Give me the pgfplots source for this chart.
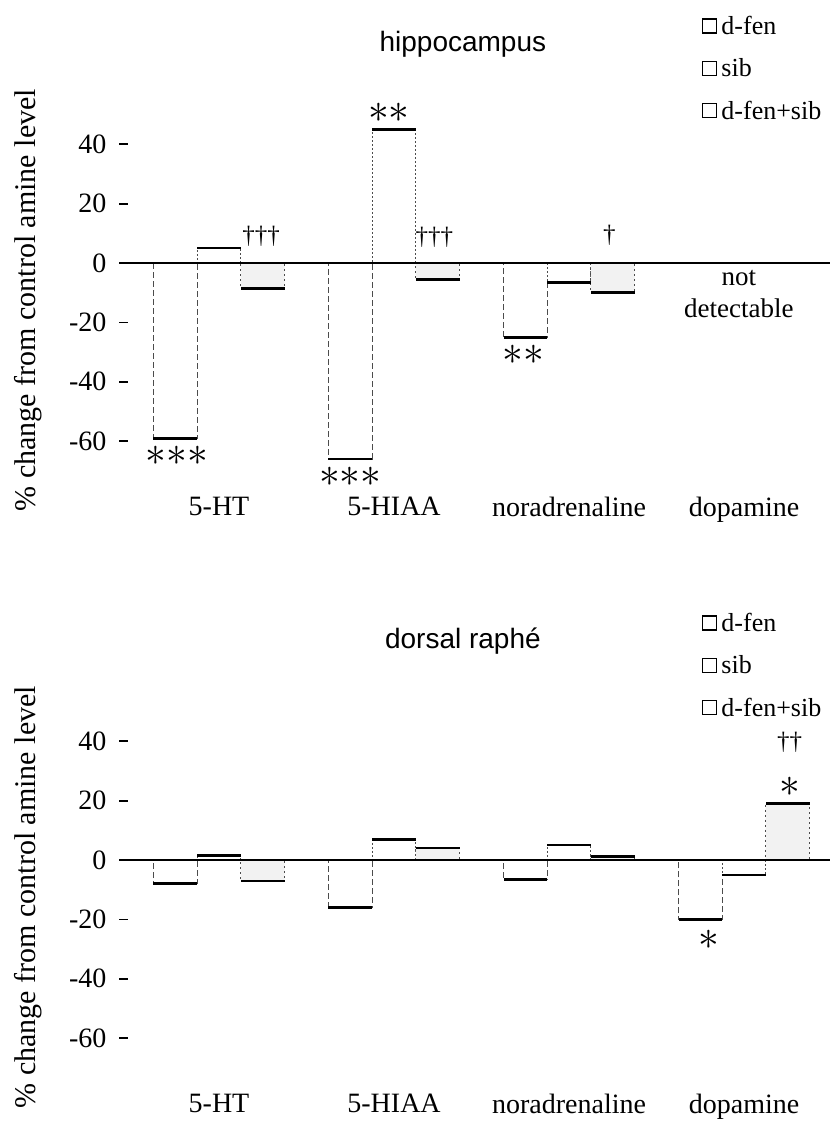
\documentclass[border=0pt]{standalone}
\usepackage{fontspec}
\setmainfont{Liberation Serif}
\newfontfamily\titlefont{Liberation Sans}
\usepackage{pgfplots}
\pgfplotsset{compat=1.18}

\tikzset{
 ast/.style={font=\fontsize{21}{21}\selectfont, inner sep=0pt},
 dg/.style={font=\fontsize{12.5}{12.5}\selectfont, inner sep=0pt},
}
\pgfplotsset{
 panel/.style={
  scale only axis, width=353pt, height=185.6pt,
  xmin=-0.543, xmax=3.491, ymin=-75, ymax=50,
  clip=false,
  axis line style={draw=none},
  xtick={0,1,2,3}, xticklabels={5-HT,5-HIAA,noradrenaline,dopamine},
  xtick pos=bottom, ytick pos=left,
  x tick style={draw=none},
  ytick={-60,-40,-20,0,20,40},
  y tick style={black, line width=0.9pt},
  tick align=center, major tick length=4.5pt,
  yticklabel style={font=\fontsize{14}{16}\selectfont, xshift=-3pt},
  xticklabel style={font=\fontsize{14}{16}\selectfont},
  /pgf/number format/assume math mode=true,
  ylabel={\% change from control amine level},
  ylabel style={font=\fontsize{15}{18}\selectfont, at={(axis description cs:-0.136,0.5)}, anchor=center},
  every axis title shift=0pt,
  title style={font=\titlefont\fontsize{14}{16}\selectfont, at={(axis description cs:0.48,1.19)}, anchor=center},
  legend style={at={(axis description cs:0.81,1.287)}, anchor=north west, draw=none, fill=none,
    font=\fontsize{13}{15}\selectfont, row sep=6.5pt, cells={anchor=west}},
  legend cell align=left,
 },
 barbase/.style={ybar, bar shift=0pt, bar width=0.25, line width=0.5pt,
   mark=-, mark size=10.9pt, mark options={solid, black, line width=1.3pt},
   legend image code/.code={\draw[draw=black, fill=white, line width=0.6pt, solid] (0pt,-3pt) rectangle (7pt,4pt);}},
 dfen/.style={barbase, draw=black!70, dash pattern=on 3pt off 1.5pt, fill=white},
 sib/.style={barbase, draw=black!70, dash pattern=on 1pt off 1pt, fill=white},
 dfs/.style={barbase, draw=black!70, dash pattern=on 1pt off 1.5pt, fill=black!5},
}

\begin{document}
\begin{tikzpicture}
\begin{axis}[panel, name=top, title={hippocampus}]
 \addplot[dfen] coordinates {(-0.25,-59) (0.75,-66) (1.75,-25)};
 \addlegendentry{d-fen}
 \addplot[sib] coordinates {(0,5) (1,45) (2,-6.5)};
 \addlegendentry{sib}
 \addplot[dfs] coordinates {(0.25,-8.5) (1.25,-5.5) (2.25,-10)};
 \addlegendentry{d-fen+sib}
 \draw[line width=1.4pt] (axis cs:-0.543,0) -- (axis cs:3.491,0);
 \node[ast] at (axis cs:-0.24,-65) {${\ast}{\ast}{\ast}$};
 \node[dg] at (axis cs:0.24,9) {\dag\dag\dag};
 \node[ast] at (axis cs:0.97,50.5) {${\ast}{\ast}$};
 \node[ast] at (axis cs:0.75,-72) {${\ast}{\ast}{\ast}$};
 \node[dg] at (axis cs:1.23,8.5) {\dag\dag\dag};
 \node[ast] at (axis cs:1.74,-31) {${\ast}{\ast}$};
 \node[dg] at (axis cs:2.23,9.5) {\dag};
 \node[align=center, font=\fontsize{13.5}{16}\selectfont] at (axis cs:2.97,-10.5) {not\\detectable};
\end{axis}
\begin{axis}[panel, name=bot, at={(0pt,-298.5pt)}, title={dorsal raphé}]
 \addplot[dfen] coordinates {(-0.25,-8) (0.75,-16) (1.75,-6.5) (2.75,-20)};
 \addlegendentry{d-fen}
 \addplot[sib] coordinates {(0,1.5) (1,7) (2,5) (3,-5)};
 \addlegendentry{sib}
 \addplot[dfs] coordinates {(0.25,-7) (1.25,4) (2.25,1.2) (3.25,19)};
 \addlegendentry{d-fen+sib}
 \draw[line width=1.4pt] (axis cs:-0.543,0) -- (axis cs:3.491,0);
 \node[ast] at (axis cs:2.80,-27) {$\ast$};
 \node[ast] at (axis cs:3.26,24.5) {$\ast$};
 \node[dg] at (axis cs:3.26,39.5) {\dag\dag};
\end{axis}
\path (-62pt,242.875pt) rectangle (355pt,-323.125pt);
\end{tikzpicture}
\end{document}
